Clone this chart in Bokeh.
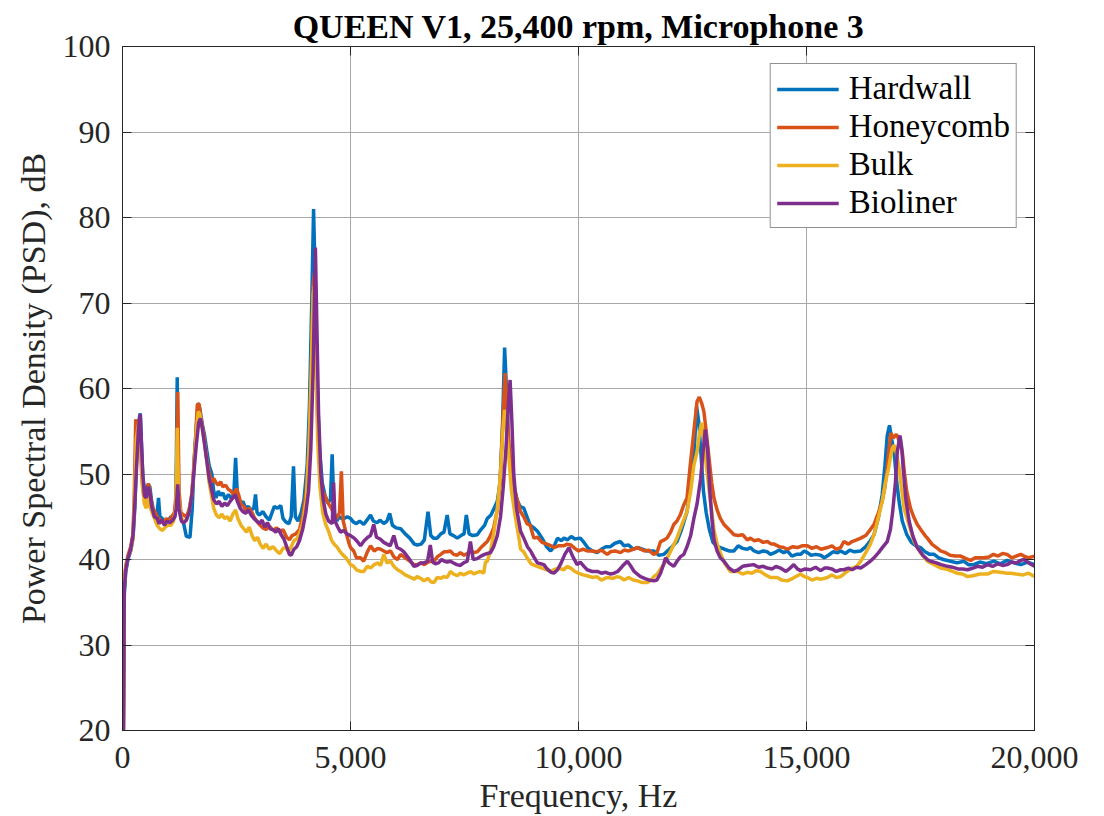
from bokeh.plotting import figure
from bokeh.models import LinearAxis, NumeralTickFormatter, FixedTicker, Range1d
from bokeh.embed import file_html
from bokeh.resources import INLINE

FONT = "Liberation Serif"
INK = "#262626"

series_names = ["Hardwall", "Honeycomb", "Bulk", "Bioliner"]
series_colors = ["#0072BD", "#D95319", "#EDB120", "#7E2F8E"]
x_ticks = [0, 5000, 10000, 15000, 20000]
y_ticks = [20, 30, 40, 50, 60, 70, 80, 90, 100]
title_text = "QUEEN V1, 25,400 rpm, Microphone 3"
x_label = "Frequency, Hz"
y_label = "Power Spectral Density (PSD), dB"

# ---------------- Hardwall ----------------
hw_f = [20, 40, 70, 120, 180, 230, 270, 310, 350, 390, 420, 445, 480, 520, 560, 600, 640, 700, 760, 790,
        820, 870, 930, 1000, 1060, 1120, 1170, 1200, 1230, 1280, 1330, 1400, 1480, 1530, 1570, 1620, 1660,
        1700, 1750, 1800, 1850, 1900, 1960, 2000, 2050, 2100, 2150, 2200, 2260, 2320, 2380, 2440, 2480,
        2520, 2580, 2640, 2700, 2760, 2820, 2880, 2917, 2950, 3000, 3080, 3150, 3220, 3280, 3330, 3400,
        3470, 3520, 3580, 3650, 3700, 3750, 3790, 3850, 3920, 3980, 4050, 4100, 4150, 4190, 4230, 4270,
        4320, 4380, 4440, 4500, 4560, 4598, 4640, 4700, 4750, 4800, 4860, 4930, 5000, 5060, 5130, 5200,
        5290, 5360, 5440, 5500, 5580, 5650, 5730, 5800, 5860, 5920, 6000, 6100, 6200, 6300, 6400, 6460,
        6550, 6620, 6700, 6760, 6820, 6900, 6980, 7050, 7120, 7180, 7260, 7340, 7420, 7490, 7540, 7600,
        7680, 7780, 7860, 7940, 8000, 8080, 8150, 8220, 8280, 8330, 8380, 8420, 8460, 8520, 8580, 8650,
        8720, 8800, 8870, 8940, 9020, 9100, 9200, 9300, 9390, 9460, 9540, 9620, 9680, 9760, 9840, 9920,
        10040, 10120, 10200, 10300, 10410, 10500, 10600, 10700, 10800, 10920, 11000, 11100, 11200, 11290,
        11400, 11500, 11650, 11760, 11870, 11950, 12050, 12160, 12260, 12380, 12470, 12530, 12590, 12640,
        12690, 12740, 12800, 12870, 12950, 13040, 13110, 13200, 13300, 13410, 13500, 13600, 13700, 13770,
        13850, 13950, 14050, 14140, 14210, 14300, 14400, 14500, 14580, 14680, 14780, 14870, 14950, 15020,
        15100, 15200, 15310, 15390, 15480, 15580, 15680, 15750, 15850, 15950, 16050, 16190, 16300, 16400,
        16480, 16580, 16660, 16720, 16770, 16820, 16870, 16920, 16980, 17030, 17100, 17200, 17300, 17400,
        17500, 17600, 17700, 17800, 17900, 18000, 18160, 18300, 18450, 18550, 18670, 18800, 18950, 19110,
        19250, 19400, 19550, 19700, 19850, 20000]
hw_db = [20, 36, 38.5, 40, 41, 42.5, 46, 52, 56, 57.1, 53, 49.5, 48.3, 47.8, 48.8, 48.5, 46.8, 45.2, 45.5, 47.2,
         45, 44.8, 44.3, 44.5, 45, 44.8, 46, 61.3, 47, 44.8, 44.5, 42.7, 42.6, 46, 51.5, 55.5, 58.3,
         57.5, 55.8, 54.5, 52.7, 51, 50, 48, 47.2, 48, 47.5, 47.8, 47, 47.6, 47.2, 47.5, 51.9,
         47.5, 46.4, 46.8, 46, 46.2, 45.8, 46, 47.6, 45.5, 45.2, 45.6, 45, 44.6, 45.5, 46.2, 46,
         46.3, 44.8, 44.4, 44.2, 45, 50.9, 45, 44.5, 45.5, 47, 51, 58, 70, 81, 72, 60,
         53, 49, 47.5, 46.6, 47, 52.3, 45.5, 44.5, 45, 44.8, 44.8, 45, 44.8, 44.4, 44.2, 44.5,
         44.1, 44.6, 45.2, 44.5, 44.3, 44.6, 44.2, 44.5, 45.4, 44, 43.7, 43.6, 43, 42.5, 41.8, 41.7,
         41.8, 42.3, 45.6, 42.8, 42.5, 42.5, 43, 43.2, 45.2, 43, 42.8, 42.5, 42.8, 43, 45.2, 43,
         42.8, 42.9, 43.5, 44, 44.8, 45.2, 46, 46.8, 49, 55, 64.8, 60, 54, 50, 48.5, 47,
         46.2, 46, 45, 44, 43.7, 43.3, 42.5, 41.5, 41, 41.5, 42.5, 42.2, 42.5, 42.3, 42.7, 42.4,
         42.5, 42, 41.4, 41, 40.8, 41.2, 41.5, 41.5, 41.9, 42.1, 41.6, 41.7, 41.2, 41.4,
         41.2, 41, 41, 40.5, 40.6, 41, 41.5, 42.1, 43.5, 45.6, 49, 52, 57.9, 56,
         52, 48, 45.5, 43.5, 42, 41.5, 41.4, 41.2, 41, 41, 41.6, 41.3, 41.2, 41.4,
         41, 40.8, 41, 40.9, 40.6, 40.8, 41.1, 40.8, 41, 40.4, 40.6, 40.6, 41, 40.8,
         40.5, 40.6, 40.5, 40.2, 40.5, 40.9, 40.8, 41, 40.7, 41.1, 40.9, 41, 41.5, 42.2,
         42.9, 45, 47.6, 51, 54.5, 55.7, 54, 52.6, 49, 46.8, 44.5, 42.9, 42, 41.6,
         41.4, 40.9, 40.6, 40.6, 40.2, 40, 39.8, 39.6, 39.8, 39.4, 39.4, 39.7, 39.5, 39.8,
         39.5, 39.9, 39.6, 39.4, 39.7, 39.4]

# ---------------- Honeycomb ----------------
hc_f = [20, 40, 70, 120, 180, 230, 260, 290, 320, 350, 390, 420, 450, 490, 530, 570, 610, 660, 720, 780,
        840, 900, 960, 1020, 1080, 1140, 1180, 1210, 1240, 1280, 1340, 1400, 1460, 1520, 1560, 1600, 1640,
        1680, 1720, 1780, 1840, 1900, 1950, 2000, 2050, 2100, 2150, 2200, 2260, 2320, 2380, 2440, 2500,
        2550, 2600, 2660, 2720, 2780, 2840, 2900, 2960, 3020, 3080, 3150, 3220, 3300, 3380, 3450, 3520,
        3600, 3660, 3720, 3800, 3880, 3950, 4030, 4090, 4140, 4180, 4210, 4240, 4280, 4330, 4390, 4450,
        4520, 4580, 4640, 4700, 4760, 4800, 4840, 4900, 4960, 5000, 5070, 5130, 5220, 5290, 5370, 5440,
        5520, 5600, 5660, 5730, 5800, 5880, 5950, 6030, 6100, 6200, 6300, 6390, 6460, 6550, 6620, 6700,
        6760, 6830, 6900, 6980, 7050, 7120, 7190, 7260, 7340, 7410, 7490, 7560, 7640, 7700, 7780, 7860,
        7940, 8000, 8070, 8140, 8220, 8280, 8330, 8390, 8430, 8480, 8540, 8600, 8650, 8728, 8800, 8870,
        8940, 9020, 9100, 9200, 9310, 9400, 9460, 9560, 9680, 9750, 9830, 9920, 10000, 10100, 10190,
        10300, 10400, 10500, 10630, 10700, 10800, 10920, 11000, 11100, 11200, 11300, 11360, 11450, 11540,
        11650, 11720, 11800, 11880, 11940, 12020, 12090, 12160, 12230, 12310, 12380, 12450, 12530, 12600,
        12650, 12700, 12750, 12800, 12860, 12920, 12970, 13040, 13110, 13190, 13300, 13410, 13500, 13600,
        13700, 13770, 13850, 13950, 14050, 14140, 14230, 14290, 14400, 14500, 14580, 14700, 14800, 14900,
        15020, 15120, 15220, 15320, 15460, 15560, 15650, 15750, 15820, 15920, 16000, 16100, 16190, 16300,
        16400, 16480, 16580, 16660, 16720, 16770, 16810, 16850, 16900, 16960, 16990, 17050, 17100, 17150,
        17200, 17280, 17350, 17430, 17520, 17600, 17650, 17750, 17850, 17940, 18050, 18150, 18260, 18380,
        18500, 18600, 18700, 18800, 18890, 19000, 19100, 19200, 19300, 19400, 19500, 19600, 19700, 19770,
        19870, 20000]
hc_db = [20, 37, 39.2, 40.5, 41.5, 43, 48, 56.4, 55.5, 54, 55, 50, 48, 47.2, 47.8, 48.9, 47.5, 46, 45.5, 44.8,
         44.6, 44.3, 44.8, 44.5, 45, 45.5, 48, 59.6, 48, 45.5, 45.2, 45, 45.8, 47.5, 50.5, 54, 58.1,
         58.2, 56.5, 54.8, 52, 50.3, 49, 49.5, 49, 48.7, 49.1, 48.5, 48.7, 48.2, 48, 47.5, 48.3,
         47.5, 46.5, 46.2, 45.6, 46, 45.5, 44.8, 44.4, 44, 43.7, 43.5, 43.9, 43.4, 43.7, 43.2, 43.5,
         42.6, 42.3, 42.8, 43, 43.5, 45, 48, 53, 62, 72, 73.5, 66, 56, 50.5, 48, 47.3,
         46.5, 46, 45.2, 44.8, 45.5, 50.3, 44.5, 43.2, 42, 41.4, 41, 40.2, 40.2, 39.8, 40.9, 41.6,
         41, 41.3, 41.2, 41, 40.8, 41, 40.3, 40, 40.6, 40.2, 39.8, 39.4, 39.4, 39.6, 39.4, 39.7,
         39.8, 39.8, 40.3, 40.6, 40.9, 40.9, 41, 40.6, 40.5, 40.8, 40.5, 40.7, 41, 40.8, 40.9, 41.4,
         41.8, 42.1, 42.8, 43.7, 45.8, 49, 55, 61.8, 58, 53, 50, 48.3, 47.1, 45.6, 45, 44.2,
         44, 42.5, 42.6, 42, 41.8, 41.6, 41.4, 41.6, 41.6, 41.8, 41.7, 41.3, 41, 41.2, 41,
         41, 40.9, 41.1, 40.6, 40.9, 41, 40.8, 41.1, 41, 41.2, 41.4, 41.2, 41, 41.1,
         40.6, 40.8, 42.1, 42.3, 42.5, 43.2, 44.1, 44.5, 45.2, 46.4, 47.2, 51, 55, 58.5,
         59, 58.3, 57.3, 55, 52, 49, 47.2, 45.8, 44.8, 44.1, 43.5, 42.9, 42.8, 42.9,
         42.3, 42.5, 42.2, 42.3, 42, 42.1, 41.8, 41.8, 41.5, 41.4, 41.2, 41.5, 41.4, 41.6,
         41.6, 41.3, 41.5, 41.2, 41.4, 41.6, 41.2, 41.4, 42.1, 41.8, 42.1, 42.3, 42.5, 42.8,
         43.5, 44.1, 45.5, 46.8, 48.5, 50.7, 53, 54.8, 54.2, 54.6, 54.5, 53.5, 52.6, 50,
         47.9, 46, 45, 44.1, 43.4, 42.8, 42.5, 41.8, 41.4, 41, 40.8, 40.5, 40.4, 40.4,
         40.1, 39.9, 40.2, 40.2, 40.2, 40.3, 40.6, 40.4, 40.7, 40.6, 40.2, 40.4, 40.6, 40.4,
         40.2, 40.4]

# ---------------- Bulk ----------------
bk_f = [20, 40, 70, 120, 180, 230, 270, 300, 340, 380, 410, 440, 480, 520, 560, 600, 640, 700, 760, 820,
        880, 940, 1000, 1060, 1120, 1170, 1200, 1230, 1280, 1330, 1400, 1460, 1520, 1570, 1620, 1660, 1700,
        1750, 1800, 1850, 1900, 1950, 2000, 2060, 2120, 2180, 2240, 2300, 2360, 2420, 2480, 2530, 2600,
        2660, 2720, 2780, 2840, 2900, 2960, 3020, 3080, 3150, 3220, 3300, 3380, 3450, 3520, 3580, 3640,
        3700, 3760, 3820, 3880, 3950, 4030, 4090, 4140, 4180, 4210, 4240, 4280, 4330, 4390, 4450, 4520,
        4580, 4640, 4700, 4760, 4820, 4900, 5000, 5070, 5130, 5220, 5290, 5370, 5440, 5520, 5600, 5660,
        5730, 5800, 5880, 5950, 6030, 6100, 6200, 6320, 6400, 6460, 6540, 6610, 6700, 6760, 6830, 6900,
        6980, 7050, 7120, 7190, 7260, 7340, 7410, 7480, 7560, 7640, 7700, 7780, 7850, 7920, 7960, 8000,
        8070, 8140, 8220, 8290, 8340, 8380, 8420, 8470, 8530, 8620, 8700, 8730, 8800, 8870, 8960, 9090,
        9200, 9300, 9400, 9460, 9560, 9680, 9750, 9830, 9920, 10000, 10100, 10190, 10300, 10400, 10500,
        10630, 10750, 10850, 10920, 11000, 11100, 11200, 11290, 11400, 11510, 11600, 11650, 11730, 11800,
        11880, 11950, 12050, 12160, 12260, 12380, 12460, 12530, 12600, 12660, 12700, 12750, 12800, 12890,
        12970, 13040, 13110, 13200, 13330, 13410, 13500, 13600, 13700, 13800, 13900, 13990, 14100, 14210,
        14360, 14450, 14580, 14700, 14800, 14870, 14950, 15020, 15120, 15220, 15320, 15460, 15560, 15650,
        15750, 15890, 16000, 16100, 16190, 16300, 16400, 16480, 16580, 16660, 16730, 16800, 16860, 16920,
        16970, 17030, 17080, 17140, 17250, 17360, 17500, 17650, 17800, 17940, 18050, 18160, 18300, 18420,
        18530, 18650, 18800, 18970, 19100, 19250, 19400, 19480, 19600, 19750, 19870, 20000]
bk_db = [20, 37.5, 39, 40.3, 41, 42.5, 48, 54, 55.5, 56.2, 52, 48.5, 46.5, 46, 47.5, 46.2, 45.6, 44.8, 44, 43.6,
         43.4, 43.8, 44, 44, 44.5, 46, 55.4, 47.5, 45, 44.5, 44.6, 45.5, 47.8, 51, 55, 57.3, 57,
         55.2, 53.5, 51.5, 49, 47.5, 46, 45.2, 44.9, 45.3, 44.8, 45, 44.5, 45.3, 45.8, 44.8, 44,
         43.6, 43.2, 43.8, 42.8, 42.2, 42.6, 41.8, 41.3, 41.8, 41.2, 41.5, 41, 40.7, 41.3, 41.4, 40.9,
         41.5, 42.2, 42.4, 43, 44.2, 47, 53, 62, 71, 72, 64, 54, 48.5, 45.5, 44.2, 43.3,
         42.3, 41.8, 41.5, 41, 40.6, 40.2, 39.4, 39.2, 38.8, 38.6, 38.6, 39.2, 39, 39.4, 39.6, 39.3,
         40.6, 39.6, 39.8, 39.2, 38.8, 38.6, 38.2, 37.9, 37.7, 38, 37.8, 37.5, 37.8, 37.4, 37.3, 37.9,
         37.8, 38, 37.9, 38.6, 38.3, 38.1, 38.4, 38.2, 38.4, 38.6, 38.3, 38.5, 38.6, 38.4, 39.7, 39.8,
         41, 43, 46, 50, 55, 57.5, 55.5, 52, 48, 44.8, 42.3, 41.2, 40.9, 40.2, 39.5, 39.2,
         39, 38.8, 38.6, 38.8, 39, 38.8, 39.2, 39, 38.6, 38.4, 38.2, 38.1, 37.9, 38, 37.6,
         37.9, 37.8, 38, 37.9, 37.6, 37.9, 37.6, 37.5, 37.3, 37.3, 37.6, 38, 38.3, 38.9,
         39.5, 40.2, 41.3, 42.5, 44, 45.6, 48, 51, 52.6, 55, 56, 54, 51, 47,
         43.5, 41.8, 40.8, 39.6, 38.6, 38.6, 38.6, 38.3, 38.5, 38.4, 38.7, 38.6, 38.2, 37.9,
         37.9, 37.6, 37.5, 37.8, 38.1, 38.3, 38, 37.9, 37.6, 37.8, 37.7, 37.9, 38.2, 37.9,
         38, 38.6, 39, 39.2, 39.8, 40.8, 41.8, 42.9, 45, 46.8, 49, 50.7, 52.5, 53.4,
         52.5, 50.7, 48.5, 46, 44, 42.1, 40.8, 39.8, 39.4, 39, 38.9, 38.7, 38.4, 38.3,
         38, 38.1, 38.3, 38.3, 38.6, 38.5, 38.4, 38.4, 38.3, 38.2, 38.4, 38]

# ---------------- Bioliner ----------------
bl_f = [20, 40, 70, 120, 180, 230, 270, 310, 351, 390, 420, 445, 480, 520, 560, 600, 640, 700, 760, 800,
        860, 920, 980, 1040, 1100, 1150, 1180, 1210, 1240, 1290, 1340, 1400, 1460, 1520, 1570, 1620, 1670,
        1710, 1750, 1800, 1850, 1900, 1960, 2000, 2060, 2120, 2180, 2240, 2300, 2360, 2420, 2470, 2520,
        2580, 2640, 2700, 2760, 2820, 2880, 2940, 3000, 3060, 3120, 3180, 3240, 3300, 3360, 3420, 3480,
        3540, 3600, 3660, 3700, 3760, 3820, 3880, 3950, 4020, 4080, 4130, 4180, 4230, 4260, 4300, 4350,
        4400, 4460, 4520, 4600, 4630, 4660, 4720, 4780, 4850, 4920, 5000, 5080, 5150, 5220, 5300, 5380,
        5440, 5510, 5570, 5650, 5730, 5800, 5870, 5950, 6020, 6100, 6170, 6240, 6310, 6390, 6460, 6540,
        6610, 6690, 6750, 6800, 6860, 6930, 7000, 7060, 7120, 7190, 7260, 7330, 7410, 7480, 7560, 7630,
        7690, 7780, 7860, 7940, 8000, 8070, 8140, 8220, 8290, 8350, 8410, 8460, 8500, 8540, 8580, 8640,
        8730, 8800, 8880, 8950, 9020, 9100, 9170, 9240, 9310, 9400, 9460, 9540, 9620, 9700, 9790, 9870,
        9970, 10040, 10120, 10190, 10300, 10410, 10500, 10600, 10700, 10780, 10860, 10960, 11070, 11150,
        11220, 11290, 11360, 11450, 11550, 11650, 11720, 11800, 11870, 11910, 11980, 12090, 12160, 12230,
        12310, 12380, 12460, 12530, 12600, 12680, 12730, 12780, 12830, 12880, 12930, 12970, 13040, 13110,
        13190, 13300, 13410, 13500, 13600, 13700, 13840, 13950, 14050, 14140, 14250, 14330, 14430, 14550,
        14620, 14720, 14800, 14870, 14970, 15090, 15200, 15310, 15400, 15460, 15560, 15650, 15750, 15820,
        15920, 16000, 16100, 16190, 16300, 16400, 16480, 16580, 16680, 16770, 16840, 16890, 16950, 16990,
        17050, 17090, 17120, 17180, 17250, 17330, 17430, 17550, 17650, 17720, 17850, 17950, 18090, 18200,
        18320, 18430, 18530, 18650, 18750, 18860, 18970, 19080, 19200, 19300, 19400, 19500, 19600, 19700,
        19770, 19870, 20000]
bl_db = [20, 36.5, 38.8, 40.2, 41.2, 42.8, 46.5, 51, 55.4, 57, 53, 50, 47.5, 47.2, 48.5, 47.8, 46.2, 45, 44.8, 44.2,
         44.6, 44, 44.5, 44.3, 44.6, 45, 46, 48.8, 46, 44.5, 44.3, 44.6, 45.5, 47.5, 50.5, 53.5, 56,
         56.5, 55.4, 53.5, 51.5, 49.5, 48, 47, 46.5, 46.8, 46.2, 46.6, 46.3, 46.8, 47.2, 47.6, 46.8,
         46, 45.6, 45.4, 45.8, 45.2, 44.8, 44.5, 44.2, 44.6, 43.8, 44.3, 43.6, 43.5, 43.2, 43.6, 42.9,
         42.4, 41.5, 40.6, 40.5, 41.2, 41.5, 42.2, 43.5, 45.5, 48, 53, 62, 76.5, 68, 57, 50,
         47, 45.3, 44.5, 44.2, 49, 44.5, 43.8, 43.2, 43.4, 43, 42.8, 42.5, 42.1, 41.6, 42.2, 42.6,
         42.8, 44.1, 42.6, 42.4, 42, 41.8, 41.6, 42.8, 41.4, 41.2, 40.9, 40.4, 39.9, 39.2, 39.3, 39.6,
         39.6, 39.8, 41.7, 39.7, 39.5, 39.6, 40, 39.8, 39.7, 39.8, 39.6, 39.4, 39.3, 39.6, 39.8, 42.1,
         40, 40.1, 40.4, 40.6, 40.7, 40.8, 41.5, 42.8, 45, 48.5, 53, 58, 61, 56, 50, 46,
         43.3, 42.5, 41.5, 41, 40.3, 39.6, 39.5, 39.4, 38.9, 38.5, 38.4, 38.8, 39.6, 40.6, 41.4, 40.4,
         39.4, 39.7, 39.2, 38.8, 38.6, 38.6, 38.4, 38.5, 38.3, 38.4, 38.6, 39.2, 39.8, 39.2,
         38.6, 38.3, 38, 37.8, 37.6, 37.5, 37.6, 38.4, 39.5, 40.2, 39.6, 39.2, 39.8, 40.3,
         40.6, 41.5, 42.8, 44.8, 46.5, 49.5, 52.5, 55.2, 53, 48, 44.5, 42.3, 41, 40.2,
         39.8, 39, 38.6, 38.8, 39.2, 39.3, 39.4, 39.1, 39.2, 39, 38.9, 39.2, 39, 38.6,
         38.9, 39.4, 38.9, 38.7, 38.9, 38.8, 39.1, 38.7, 39, 39, 38.9, 38.6, 38.8, 38.8,
         39, 38.8, 39.1, 39, 39.4, 39.8, 40.2, 40.8, 41.5, 42.1, 43.5, 45.6, 49, 52.6,
         54.5, 53, 50.7, 47, 44.5, 42.8, 41.4, 40.5, 40, 39.8, 39.6, 39.4, 39.2, 39.1,
         38.9, 38.9, 38.8, 39, 39.2, 39.1, 39.4, 39.2, 39.5, 39.3, 39.4, 39.7, 39.6, 39.9,
         40, 39.6, 39.2]

series_f = [hw_f, hc_f, bk_f, bl_f]
series_db = [hw_db, hc_db, bk_db, bl_db]

p = figure(frame_width=912, frame_height=684,
           x_range=Range1d(0, 20000), y_range=Range1d(20, 100),
           output_backend="svg", toolbar_location=None,
           min_border_left=122, min_border_top=46, min_border_right=60, min_border_bottom=70,
           background_fill_color="white", border_fill_color="white")

p.title.text = title_text
p.title.text_font = FONT
p.title.text_font_size = "34px"
p.title.text_font_style = "bold"
p.title.text_color = "black"
p.title.align = "center"
p.title.standoff = 4

for name, col, fx, dy in zip(series_names, series_colors, series_f, series_db):
    p.line(fx, dy, line_color=col, line_width=3.5, legend_label=name)

for ax in [p.xaxis[0], p.yaxis[0]]:
    ax.axis_line_color = INK
    ax.major_tick_line_color = INK
    ax.major_tick_in = 9
    ax.major_tick_out = 0
    ax.minor_tick_line_color = None
    ax.major_label_text_font = FONT
    ax.major_label_text_font_size = "32px"
    ax.major_label_text_color = INK
    ax.axis_label_text_font = FONT
    ax.axis_label_text_font_size = "34px"
    ax.axis_label_text_font_style = "normal"
    ax.axis_label_text_color = INK

p.xaxis.ticker = FixedTicker(ticks=x_ticks)
p.yaxis.ticker = FixedTicker(ticks=y_ticks)
p.xaxis.formatter = NumeralTickFormatter(format="0,0")

p.xaxis.axis_label = x_label
p.xaxis.major_label_standoff = 16
p.xaxis.axis_label_standoff = 6
p.xaxis.major_label_text_line_height = 1.0
p.xaxis.axis_label_text_line_height = 1.0
p.yaxis.axis_label = y_label
p.yaxis.major_label_standoff = 12
p.yaxis.axis_label_standoff = 8

# mirrored box axes (top / right) with inward ticks, no labels
top = LinearAxis(ticker=FixedTicker(ticks=x_ticks), major_label_text_color=None,
                 major_label_standoff=0, axis_line_color=INK, major_tick_line_color=INK,
                 major_tick_in=9, major_tick_out=0, minor_tick_line_color=None)
right = LinearAxis(ticker=FixedTicker(ticks=y_ticks), major_label_text_color=None,
                   major_label_standoff=0, axis_line_color=INK, major_tick_line_color=INK,
                   major_tick_in=9, major_tick_out=0, minor_tick_line_color=None)
p.add_layout(top, "above")
p.add_layout(right, "right")

p.xgrid.ticker = FixedTicker(ticks=x_ticks)
p.ygrid.ticker = FixedTicker(ticks=y_ticks)
p.grid.grid_line_color = "#a8a8a8"
p.grid.grid_line_width = 1
p.outline_line_color = INK

lg = p.legend[0]
lg.location = "top_right"
lg.margin = 17
lg.padding = 6
lg.spacing = 1
lg.glyph_width = 62
lg.glyph_height = 36
lg.label_height = 36
lg.label_standoff = 10
lg.label_text_font = FONT
lg.label_text_font_size = "33px"
lg.label_text_color = "black"
lg.border_line_color = INK
lg.border_line_width = 1
lg.background_fill_alpha = 1.0

open("out.html", "w").write(file_html(p, INLINE))
